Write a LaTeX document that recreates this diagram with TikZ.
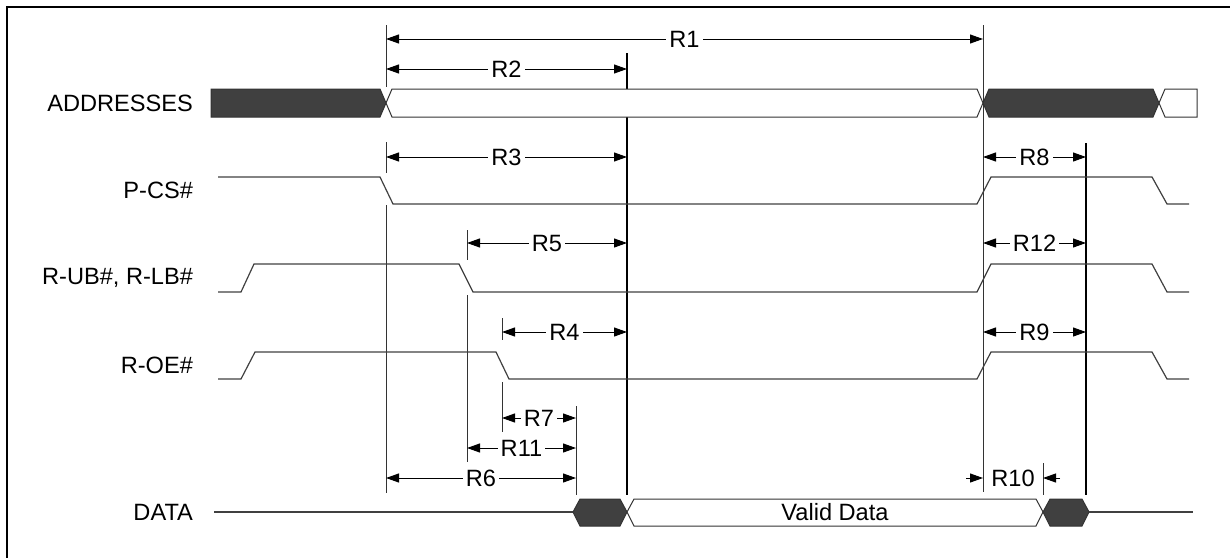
\documentclass[tikz,border=0pt]{standalone}
\usepackage{fontspec}
\setmainfont{Liberation Sans}
\usetikzlibrary{arrows.meta}

\begin{document}
\begin{tikzpicture}[x=0.5pt, y=-0.5pt, font=\fontsize{11.8}{13}\selectfont,
    sig/.style = {draw=black!75, line width=0.6pt},
    guide/.style = {draw=black!80, line width=0.5pt},
    heavy/.style = {draw=black, line width=0.8pt},
    dark/.style = {draw=black!80, fill=black!75, line width=0.5pt},
    light/.style = {draw=black!80, fill=white, line width=0.5pt},
    dim/.style = {{Triangle[length=6.5pt,width=4.5pt]}-{Triangle[length=6.5pt,width=4.5pt]}, line width=0.5pt},
    tip/.style = {-{Triangle[length=6.5pt,width=4.5pt]}, line width=0.5pt},
    tag/.style = {fill=white, inner sep=1.5pt},
    signame/.style = {anchor=east}]
    \useasboundingbox (0,0) rectangle (1230,557);
    \draw[line width=1pt] (7,7) rectangle (1240,570);

    % signal names
    \node[signame] (addr) at (200,103) {ADDRESSES};
    \node[signame] (cs)   at (200,190) {P-CS\#};
    \node[signame] (ub)   at (200,278) {R-UB\#, R-LB\#};
    \node[signame] (oe)   at (200,365) {R-OE\#};
    \node[signame] (data) at (200,512) {DATA};

    % guide lines
    \draw[heavy] (627,53) -- (627,495);
    \draw[heavy] (1086,143) -- (1086,495);
    \draw[guide] (983,25) -- (983,492);
    \draw[guide] (386,25) -- (386,87) (386,142) -- (386,173) (386,205) -- (386,493);
    \draw[guide] (467,230) -- (467,260) (467,295) -- (467,462);
    \draw[guide] (502,318) -- (502,340) (502,382) -- (502,432);
    \draw[guide] (576,406) -- (576,495);
    \draw[guide] (1043,463) -- (1043,495);

    % address bus
    \draw[dark]  (211,89) -- (380,89) -- (386,103) -- (380,117) -- (211,117) -- cycle;
    \draw[light] (386,103) -- (392,89) -- (977,89) -- (983,103) -- (977,117) -- (392,117) -- cycle;
    \draw[dark]  (983,103) -- (989,89) -- (1153,89) -- (1159,103) -- (1153,117) -- (989,117) -- cycle;
    \draw[light] (1159,103) -- (1165,89) -- (1197,89) -- (1197,117) -- (1165,117) -- cycle;

    % control signals
    \draw[sig] (218,177) -- (380,177) -- (393,204) -- (977,204) -- (991,177) -- (1152,177) -- (1167,204) -- (1189,204);
    \draw[sig] (218,292) -- (241,292) -- (254,264) -- (459,264) -- (473,292) -- (977,292) -- (991,264) -- (1152,264) -- (1167,292) -- (1189,292);
    \draw[sig] (218,379) -- (241,379) -- (255,352) -- (496,352) -- (509,379) -- (977,379) -- (991,352) -- (1152,352) -- (1167,379) -- (1189,379);

    % data bus
    \draw[sig] (214,512) -- (573,512);
    \draw[dark]  (573,512) -- (580,499) -- (620,499) -- (627,512) -- (620,526) -- (580,526) -- cycle;
    \draw[light] (627,512) -- (634,499) -- (1036,499) -- (1043,512) -- (1036,526) -- (634,526) -- cycle;
    \node (valid) at (835,512) {Valid Data};
    \draw[dark]  (1043,512) -- (1050,499) -- (1082,499) -- (1089,512) -- (1082,526) -- (1050,526) -- cycle;
    \draw[sig] (1089,512) -- (1193,512);

    % timing arrows
    \foreach \n/\xa/\xb/\yy in {R1/386/983/39, R2/386/627/69, R3/386/627/157,
        R5/467/627/243, R4/502/627/332, R7/502/576/418, R11/467/576/448,
        R6/386/576/478, R8/983/1086/157, R12/983/1086/243, R9/983/1086/332} {
        \coordinate (\n a) at (\xa,\yy);
        \coordinate (\n b) at (\xb,\yy);
        \draw[dim] (\n a) -- node[tag] (\n) {\n} (\n b);
    }

    % R10 points inward
    \coordinate (r10a) at (966,478);
    \coordinate (r10b) at (983,478);
    \coordinate (r10c) at (1060,478);
    \coordinate (r10d) at (1043,478);
    \node (R10) at (1013,478) {R10};
    \draw[tip] (r10a) -- (r10b);
    \draw[tip] (r10c) -- (r10d);
\end{tikzpicture}
\end{document}
